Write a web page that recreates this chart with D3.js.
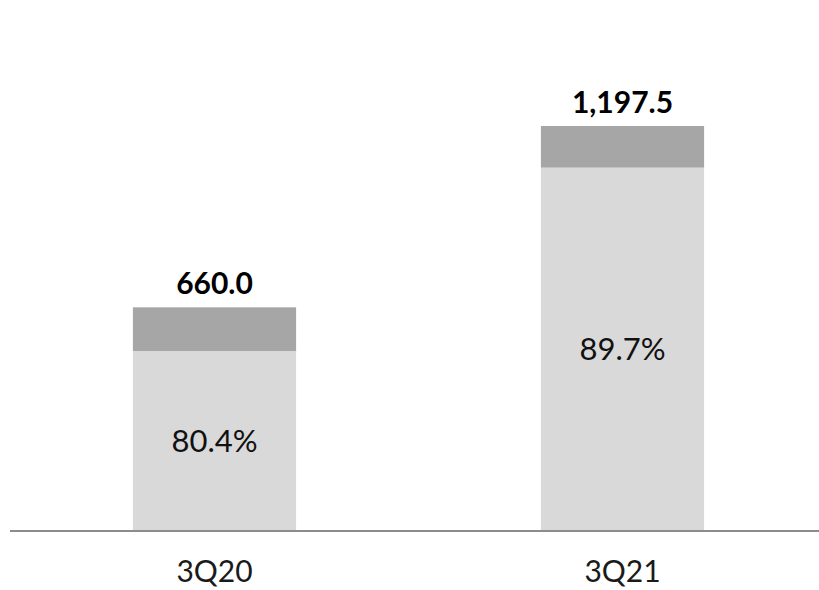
<!DOCTYPE html>
<html>
<head>
<meta charset="utf-8">
<script src="https://cdn.jsdelivr.net/npm/d3@7"></script>
<style>
  html, body { margin: 0; padding: 0; background: #ffffff; }
  svg { display: block; }
  text { font-family: Lato, "Open Sans", "DejaVu Sans", sans-serif; }
</style>
</head>
<body>
<svg id="chart" width="819" height="590"></svg>
<script>
// Data
const categories = ["3Q20", "3Q21"];
const totals = [660.0, 1197.5];
const sharePct = [80.4, 89.7];          // bottom (light) segment share, %
const totalLabels = ["660.0", "1,197.5"];
const shareLabels = ["80.4%", "89.7%"];

const W = 819, H = 590;
const baseY = 530, topY = 126;

const svg = d3.select("#chart");

const x = d3.scaleBand()
  .domain(categories)
  .range([10.5, 826.5])
  .paddingInner(0.6)
  .paddingOuter(0.3);

const y = d3.scaleLinear()
  .domain([0, d3.max(totals)])
  .range([baseY, topY]);

const rows = categories.map((c, i) => ({
  cat: c,
  total: totals[i],
  bottom: totals[i] * sharePct[i] / 100,
  totalLabel: totalLabels[i],
  shareLabel: shareLabels[i]
}));

// bottom segment (light)
svg.selectAll("rect.bottom").data(rows).enter().append("rect")
  .attr("class", "bottom")
  .attr("x", d => x(d.cat))
  .attr("width", x.bandwidth())
  .attr("y", d => y(d.bottom))
  .attr("height", d => y(0) - y(d.bottom))
  .attr("fill", "#d9d9d9");

// top segment (dark)
svg.selectAll("rect.top").data(rows).enter().append("rect")
  .attr("class", "top")
  .attr("x", d => x(d.cat))
  .attr("width", x.bandwidth())
  .attr("y", d => y(d.total))
  .attr("height", d => y(d.bottom) - y(d.total))
  .attr("fill", "#a6a6a6");

// axis line
const axis = d3.axisBottom(x).tickSize(0).tickPadding(30);
const gx = svg.append("g")
  .attr("transform", `translate(0,${baseY + 1})`)
  .call(axis);
gx.select(".domain").attr("stroke", "#8c8c8c").attr("stroke-width", 2)
  .attr("d", `M10,0H819`);
gx.selectAll(".tick text")
  .attr("font-size", 30)
  .attr("fill", "#1a1a1a")
  .attr("font-family", "Lato, 'Open Sans', sans-serif");

// total labels
svg.selectAll("text.total").data(rows).enter().append("text")
  .attr("class", "total")
  .attr("x", d => x(d.cat) + x.bandwidth() / 2)
  .attr("y", d => y(d.total) - 13)
  .attr("text-anchor", "middle")
  .attr("font-size", 30)
  .attr("font-weight", "bold")
  .attr("fill", "#000")
  .text(d => d.totalLabel);

// share labels
svg.selectAll("text.share").data(rows).enter().append("text")
  .attr("class", "share")
  .attr("x", d => x(d.cat) + x.bandwidth() / 2)
  .attr("y", d => (y(0) + y(d.bottom)) / 2)
  .attr("dy", "0.36em")
  .attr("text-anchor", "middle")
  .attr("font-size", 31)
  .attr("fill", "#111")
  .text(d => d.shareLabel);
</script>
</body>
</html>
